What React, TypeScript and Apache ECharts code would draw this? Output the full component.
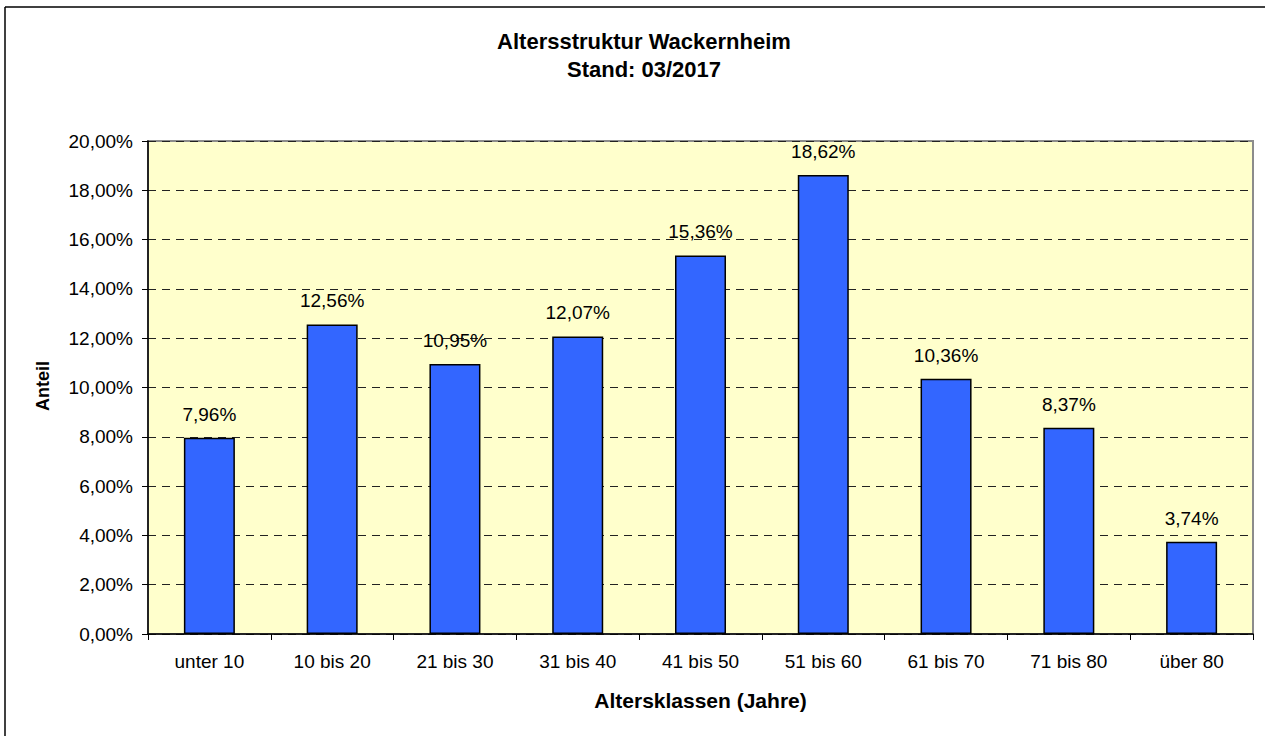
import React, { useEffect, useRef } from "react";
import * as echarts from "echarts";

const categories = ["unter 10", "10 bis 20", "21 bis 30", "31 bis 40", "41 bis 50", "51 bis 60", "61 bis 70", "71 bis 80", "über 80"];
const shares = [7.96, 12.56, 10.95, 12.07, 15.36, 18.62, 10.36, 8.37, 3.74];
const titleLines = ["Altersstruktur Wackernheim", "Stand: 03/2017"];
const xName = "Altersklassen (Jahre)";
const yName = "Anteil";

const fmt = (v: number) => v.toFixed(2).replace(".", ",") + "%";

export default function App() {
  const ref = useRef<HTMLDivElement>(null);
  useEffect(() => {
    const chart = echarts.init(ref.current!, null, { renderer: "svg" });
    const font = "Arial, 'Liberation Sans', sans-serif";
    chart.setOption({
      animation: false,
      backgroundColor: "#ffffff",
      textStyle: { fontFamily: font },
      title: {
        text: titleLines.join("\n"),
        left: 639,
        textAlign: "center",
        top: 22,
        textStyle: { fontFamily: font, fontSize: 22, fontWeight: "bold", color: "#000", lineHeight: 28 },
      },
      graphic: [
        { type: "line", shape: { x1: 5, y1: 7, x2: 5, y2: 736 }, style: { stroke: "#000", lineWidth: 1.5 } },
        { type: "line", shape: { x1: 5, y1: 7, x2: 1265, y2: 7 }, style: { stroke: "#000", lineWidth: 1.5 } },
        {
          type: "text",
          x: 43,
          y: 386,
          rotation: Math.PI / 2,
          style: {
            text: yName,
            fontFamily: font,
            fontSize: 18,
            fontWeight: "bold",
            fill: "#000",
            align: "center",
            verticalAlign: "middle",
          },
        },
      ],
      grid: {
        left: 148,
        top: 141,
        right: 12,
        bottom: 102,
        show: true,
        backgroundColor: "#FFFFCC",
        borderColor: "#8c8c8c",
        borderWidth: 2,
      },
      xAxis: {
        type: "category",
        data: categories,
        name: xName,
        nameLocation: "middle",
        nameGap: 56,
        nameTextStyle: { fontFamily: font, fontSize: 21, fontWeight: "bold", color: "#000" },
        axisLine: { lineStyle: { color: "#000", width: 1.5 } },
        axisTick: { show: true, length: 6, lineStyle: { color: "#000" } },
        axisLabel: { fontFamily: font, fontSize: 19, color: "#000", margin: 18 },
      },
      yAxis: {
        type: "value",
        min: 0,
        max: 20,
        interval: 2,
        axisLine: { show: true, lineStyle: { color: "#000", width: 1.5 } },
        axisTick: { show: true, length: 6, lineStyle: { color: "#000" } },
        axisLabel: { fontFamily: font, fontSize: 19, color: "#000", margin: 15, formatter: (v: number) => fmt(v) },
        splitLine: { show: true, lineStyle: { color: "#222", type: [8, 6], width: 1 } },
      },
      series: [
        {
          type: "bar",
          data: shares,
          barWidth: 51,
          itemStyle: { color: "#3366FF", borderColor: "#000", borderWidth: 1.5 },
          label: {
            show: true,
            position: "top",
            distance: 14,
            fontFamily: font,
            fontSize: 19,
            color: "#000",
            formatter: (p: any) => fmt(p.value),
          },
        },
      ],
    });
    return () => chart.dispose();
  }, []);
  return <div ref={ref} style={{ position: "fixed", left: 0, top: 0, width: 1265, height: 736 }} />;
}
